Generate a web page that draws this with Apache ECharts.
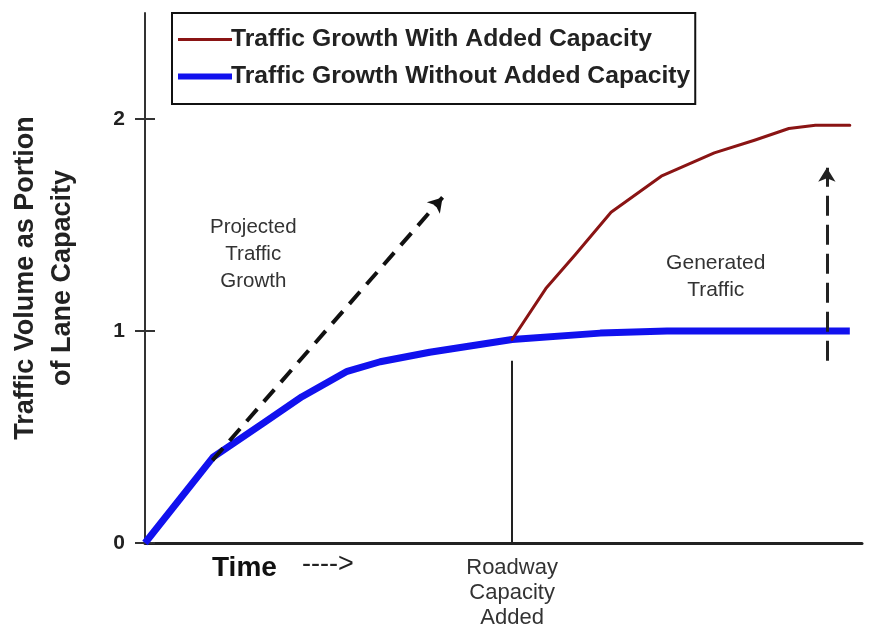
<!DOCTYPE html>
<html>
<head>
<meta charset="utf-8">
<script src="https://cdn.jsdelivr.net/npm/echarts@6/dist/echarts.min.js"></script>
<style>
  html, body { margin: 0; padding: 0; background: #fff; }
  #chart { width: 871px; height: 631px; }
</style>
</head>
<body>
<div id="chart"></div>
<script>
// Time runs 0..100 (arbitrary units); volume is a share of lane capacity.
const seriesNames = ['Traffic Growth With Added Capacity', 'Traffic Growth Without Added Capacity'];

const timeWithout = [0, 9.5, 16.5, 21.9, 28.2, 32.8, 39.7, 51.2, 63.5, 72.8, 98.3];
const volumeWithout = [0, 0.405, 0.565, 0.69, 0.81, 0.855, 0.90, 0.96, 0.99, 1.0, 1.0];

const timeWith = [51.2, 55.9, 60, 65, 72, 79.4, 85, 89.8, 93.5, 98.3];
const volumeWith = [0.96, 1.20, 1.36, 1.56, 1.73, 1.84, 1.90, 1.955, 1.97, 1.97];

const yTicks = [0, 1, 2];

// Moment the roadway capacity is added, and the reference arrows
const capacityAdded = [51.2, 0.86];          // time, top of marker line
const projectedArrow = [[9.4, 0.39], [41.5, 1.63]];
const generatedArrow = [[95.1, 0.86], [95.1, 1.77]];

const FONT = "'Liberation Sans', Arial, sans-serif";

function zip(xs, ys) { return xs.map((x, i) => [x, ys[i]]); }

// Legend swatches: a centred bar of given thickness inside a 54x14 box
function swatch(thickness) {
  const top = (14 - thickness) / 2;
  return 'path://M0 0L0.01 0M0 ' + top + 'H54V' + (top + thickness) + 'H0Z M0 14L0.01 14';
}

const chart = echarts.init(document.getElementById('chart'));

chart.setOption({
  animation: false,
  backgroundColor: '#fff',
  grid: { left: 145, right: 9, top: 13, bottom: 88, containLabel: false, outerBoundsMode: 'none' },
  xAxis: {
    type: 'value', min: 0, max: 100,
    axisLine: { show: true, lineStyle: { color: '#222', width: 3 } },
    axisTick: { show: false }, axisLabel: { show: false }, splitLine: { show: false }
  },
  yAxis: [
    {
      type: 'value', min: 0, max: 2.5,
      name: 'Traffic Volume as Portion\nof Lane Capacity',
      nameLocation: 'middle', nameRotate: 90, nameGap: 64,
      nameTextStyle: { fontFamily: FONT, fontWeight: 'bold', fontSize: 27, color: '#222', lineHeight: 37 },
      axisLine: { show: true, lineStyle: { color: '#333', width: 2 } },
      axisTick: { show: true, customValues: yTicks, length: 10, lineStyle: { color: '#333', width: 2 } },
      axisLabel: { customValues: yTicks, margin: 20, fontFamily: FONT, fontWeight: 'bold', fontSize: 21, color: '#222' },
      splitLine: { show: false }
    },
    {
      type: 'value', min: 0, max: 2.5, position: 'left',
      axisLine: { show: false },
      axisTick: { show: true, inside: true, customValues: yTicks, length: 10, lineStyle: { color: '#333', width: 2 } },
      axisLabel: { show: false },
      splitLine: { show: false }
    }
  ],
  legend: {
    orient: 'vertical', left: 172, top: 13,
    padding: [14, 5, 15, 6], itemGap: 12,
    itemWidth: 54, itemHeight: 14,
    borderColor: '#111', borderWidth: 2, backgroundColor: '#fff',
    textStyle: { fontFamily: FONT, fontWeight: 'bold', fontSize: 24.7, color: '#222', padding: [0, 0, 0, -6] },
    data: [
      { name: seriesNames[0], icon: swatch(3), itemStyle: { color: '#8a1414' } },
      { name: seriesNames[1], icon: swatch(6), itemStyle: { color: '#1111ee' } }
    ]
  },
  series: [
    {
      name: seriesNames[0], type: 'line', smooth: false, symbol: 'none',
      data: zip(timeWith, volumeWith),
      lineStyle: { color: '#8a1414', width: 3, join: 'round', cap: 'round' }, itemStyle: { color: '#8a1414' }, z: 3
    },
    {
      name: seriesNames[1], type: 'line', smooth: false, symbol: 'none',
      data: zip(timeWithout, volumeWithout),
      lineStyle: { color: '#1111ee', width: 7, join: 'round' }, itemStyle: { color: '#1111ee' }, z: 2,
      markLine: {
        silent: true, symbol: ['none', 'none'], label: { show: false },
        lineStyle: { color: '#222', width: 2, type: 'solid' },
        data: [[{ coord: [capacityAdded[0], 0] }, { coord: capacityAdded }]]
      }
    },
    {
      name: 'arrows', type: 'line', data: [], symbol: 'none',
      markLine: {
        silent: true, symbol: ['none', 'arrow'], symbolSize: [13, 14], label: { show: false },
        data: [
          [{ coord: projectedArrow[0], lineStyle: { type: [16, 10], width: 4, color: '#111' } },
           { coord: projectedArrow[1] }],
          [{ coord: generatedArrow[0], lineStyle: { type: [20, 9], width: 3, color: '#222' } },
           { coord: generatedArrow[1] }]
        ]
      }
    }
  ]
});

// Text notes placed from data coordinates
function px(pt) { return chart.convertToPixel({ gridIndex: 0 }, pt); }
const noteStyle = { fontFamily: FONT, fontSize: 20.5, fill: '#333', align: 'center', verticalAlign: 'middle', lineHeight: 27 };
const pProj = px([15.1, 1.363]);
const pGen = px([79.6, 1.257]);
const pCap = px([capacityAdded[0], 0]);
const origin = px([0, 0]);

chart.setOption({
  graphic: [
    { type: 'text', x: pProj[0], y: pProj[1], style: Object.assign({ text: 'Projected\nTraffic\nGrowth' }, noteStyle) },
    { type: 'text', x: pGen[0], y: pGen[1], style: Object.assign({ text: 'Generated\nTraffic' }, noteStyle, { fontSize: 21 }) },
    { type: 'text', x: pCap[0], y: pCap[1] + 12, style: Object.assign({ text: 'Roadway\nCapacity\nAdded' }, noteStyle, { fontSize: 22, lineHeight: 25, verticalAlign: 'top' }) },
    { type: 'text', x: origin[0] + 67, y: origin[1] + 25, style: { text: 'Time', fontFamily: FONT, fontWeight: 'bold', fontSize: 28, fill: '#111', verticalAlign: 'middle' } },
    { type: 'text', x: origin[0] + 157, y: origin[1] + 22, style: { text: '---->', fontFamily: FONT, fontSize: 27, fill: '#222', verticalAlign: 'middle' } }
  ]
});
</script>
</body>
</html>
